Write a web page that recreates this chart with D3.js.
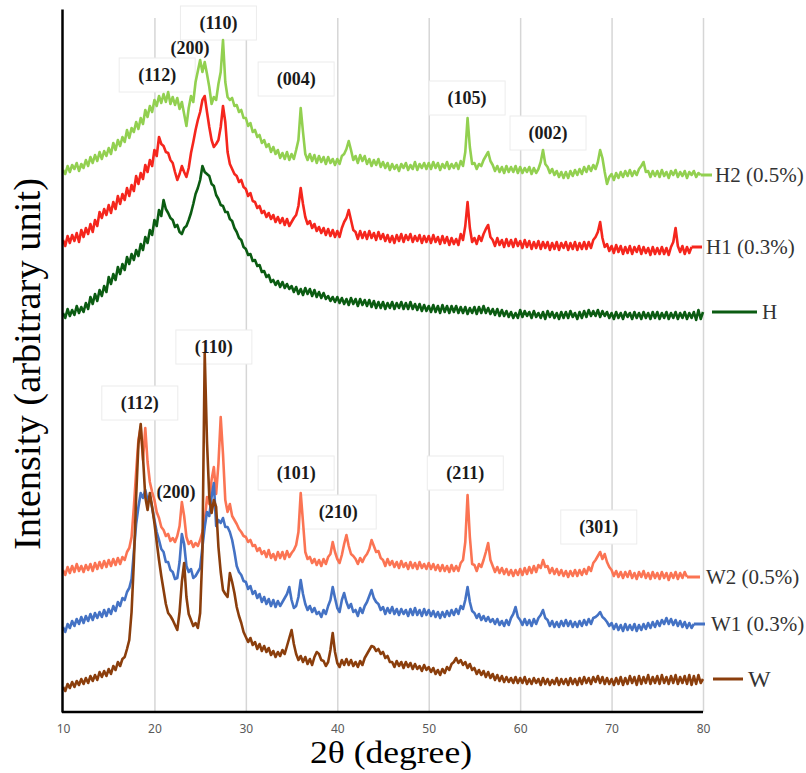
<!DOCTYPE html>
<html>
<head>
<meta charset="utf-8">
<script src="https://cdn.jsdelivr.net/npm/d3@7"></script>
<style>
  body { margin: 0; background: #fff; }
</style>
</head>
<body>
<div id="area_xrd"></div>
<script>
// 2θ sampling (degree), one value every 0.25°
const twoTheta = d3.range(0, 281).map(i => 10 + i * 0.25);

// intensities (arbitrary unit, curves already stacked)
const h2 = [
  542,538,546,540,547,543,549,541,548,544,552,546,555,549,557,551,560,553,561,556,
  564,558,569,562,572,566,575,570,582,574,584,580,590,583,594,588,602,595,606,600,
  612,606,616,609,618,610,620,608,615,607,614,603,610,598,586,604,616,610,630,641,
  652,640,650,638,625,608,615,612,628,640,672,630,615,612,614,606,607,600,602,594,
  594,586,589,580,582,575,577,569,572,565,568,560,565,558,562,554,559,553,560,552,
  558,553,562,572,604,580,558,552,558,551,557,549,556,550,555,548,555,549,553,547,
  553,548,556,558,563,571,562,552,556,549,557,551,556,548,553,546,552,547,553,545,
  550,544,549,542,548,543,547,541,548,544,549,542,547,543,550,542,548,544,549,543,
  549,543,550,544,549,542,548,544,550,543,548,544,549,543,551,546,560,594,565,548,
  549,543,548,546,552,556,560,551,547,541,546,540,545,539,546,540,545,540,546,539,
  545,539,544,540,545,538,544,539,543,550,562,548,545,539,543,537,541,535,540,534,
  540,534,541,536,542,537,543,538,545,540,546,541,547,543,550,562,554,540,528,535,
  538,532,539,534,540,535,541,536,542,536,541,537,543,546,550,540,541,535,541,536,
  541,535,542,536,540,534,541,537,542,535,540,536,541,534,540,537,541,535,539,537,
  null
];
const h1 = [
  472,466,476,469,477,471,479,470,482,475,484,478,488,480,492,486,500,494,503,497,
  507,499,510,503,516,508,518,512,524,516,527,521,536,528,539,533,547,540,552,546,
  562,556,575,568,566,560,559,552,549,540,532,538,546,540,535,544,559,570,582,592,
  600,612,616,600,585,572,565,568,572,585,606,590,560,548,543,538,536,530,532,525,
  523,516,519,511,510,504,506,499,501,495,499,493,497,490,495,489,494,487,493,486,
  490,494,497,506,524,508,495,488,491,484,488,481,485,479,484,477,483,476,482,475,
  481,475,484,490,494,502,492,482,480,473,481,474,480,473,481,474,479,472,480,473,
  478,471,477,470,476,469,477,471,478,470,477,472,478,470,476,471,477,469,476,470,
  476,469,477,470,475,468,476,469,475,467,474,468,473,467,478,472,486,510,484,470,
  474,468,476,471,478,483,487,475,472,466,474,467,472,465,473,466,472,465,473,466,
  471,464,472,465,471,463,470,464,471,463,470,464,470,462,469,463,470,462,469,464,
  470,462,469,463,470,462,469,463,470,463,470,464,472,475,480,490,474,465,468,461,
  466,459,467,460,466,458,465,459,466,458,465,460,466,458,465,459,464,457,465,458,
  464,458,465,458,464,457,465,470,484,466,460,466,458,465,459,465,null,null,null,null,
  null
];
const h = [
  399,394,403,396,402,397,406,399,405,400,409,403,415,408,418,411,422,416,426,420,
  435,428,438,432,445,438,448,442,455,448,458,452,462,456,468,462,475,469,482,477,
  492,486,502,496,512,503,499,494,492,485,487,480,478,484,486,492,499,508,518,524,
  532,546,540,538,536,528,526,517,513,507,506,500,500,493,491,484,480,474,472,465,
  463,457,458,451,452,446,447,440,441,435,437,430,432,427,431,425,430,424,428,423,
  426,420,425,418,423,417,424,418,423,416,422,415,420,414,419,413,416,411,415,410,
  415,409,414,408,413,407,414,408,413,406,413,407,412,406,412,405,411,404,410,404,
  410,403,409,404,410,403,409,404,410,403,409,403,410,403,408,402,408,401,407,401,
  406,400,407,400,406,399,407,400,406,399,406,400,406,399,405,399,405,398,404,399,
  405,398,405,399,406,399,404,398,403,397,403,396,402,396,401,395,400,394,399,394,
  402,395,401,396,400,394,401,395,399,394,400,393,401,395,400,394,399,393,400,394,
  400,394,401,395,399,393,400,394,401,395,402,396,401,396,402,395,401,396,400,394,
  399,393,400,394,399,393,400,395,399,393,400,394,399,393,400,394,399,393,400,394,
  400,393,399,394,400,393,399,394,400,393,399,394,400,393,399,394,400,392,402,393,
  400
];
const w2 = [
  142,137,145,139,146,140,148,141,146,140,147,142,148,141,149,143,150,144,151,145,
  152,146,153,147,154,148,155,152,160,164,175,205,240,272,285,252,284,250,230,220,
  212,200,194,185,182,176,178,171,174,170,176,186,210,196,175,168,171,165,169,166,
  172,180,190,215,208,232,245,218,248,295,258,212,200,208,196,192,188,183,180,176,
  175,170,172,166,167,161,164,158,161,155,162,154,158,152,160,154,160,153,161,155,
  159,162,167,180,219,190,160,153,155,149,153,147,152,146,153,148,155,158,170,160,
  153,149,157,168,177,166,158,156,153,148,154,150,155,158,163,172,166,160,161,154,
  152,146,153,147,151,145,150,144,151,145,149,143,150,144,149,143,150,144,148,143,
  149,143,148,142,147,141,147,141,146,140,147,141,146,141,149,152,170,217,175,148,
  147,141,148,145,152,160,169,152,146,140,145,139,144,138,143,137,142,136,142,137,
  143,137,144,138,145,139,146,140,147,144,152,145,146,139,144,138,143,137,142,136,
  141,135,141,136,142,136,142,137,143,138,145,141,149,152,156,160,153,158,150,145,
  142,136,141,135,140,134,140,135,141,134,139,133,140,135,141,134,139,133,140,134,
  139,133,140,134,139,132,139,134,140,133,139,134,140,135,null,null,null,null,null,null,
  null
];
const w1 = [
  85,80,88,84,91,86,93,88,95,89,96,91,98,92,99,94,100,95,102,96,
  103,98,106,101,110,106,114,112,120,124,133,160,188,205,219,214,222,212,216,204,
  192,180,172,163,160,150,150,142,140,133,134,150,178,168,146,140,143,134,136,140,
  144,165,185,200,196,215,229,186,192,189,194,185,185,180,172,160,146,140,137,131,
  130,123,126,118,121,114,118,110,115,108,113,106,112,105,111,106,110,114,118,125,
  112,104,106,115,132,118,108,102,106,100,104,98,100,95,102,98,106,112,125,114,
  104,100,112,119,110,104,108,100,102,96,104,99,106,110,116,122,114,110,108,102,
  105,98,104,99,105,98,103,97,103,98,102,96,103,97,104,97,102,96,103,97,
  102,96,101,95,100,94,100,95,101,96,102,97,103,98,106,103,112,125,110,101,
  99,94,98,92,96,91,95,90,93,88,93,87,91,86,92,87,94,98,105,95,
  92,87,93,87,92,86,93,88,94,97,102,94,92,86,91,85,90,85,91,86,
  92,86,91,85,90,85,91,86,92,87,93,88,94,95,97,100,95,93,90,86,
  89,83,88,82,87,81,88,82,87,82,88,81,87,82,88,83,89,84,90,85,
  91,86,92,88,94,88,93,87,92,86,91,85,90,84,89,84,88,null,null,null,
  null
];
const w = [
  25,21,28,24,30,25,31,27,33,28,34,29,36,31,37,32,40,35,41,36,
  43,38,46,42,50,46,53,55,63,72,100,150,215,268,288,255,215,202,219,205,
  189,170,152,136,122,108,99,96,92,87,82,100,130,149,115,98,92,86,89,84,
  99,160,359,270,215,199,212,205,165,140,122,118,115,139,130,119,105,96,89,80,
  75,70,74,67,70,63,68,61,66,60,64,57,61,55,60,56,62,58,66,74,
  82,68,58,52,56,50,55,48,53,47,55,60,58,52,51,46,50,62,79,60,
  49,45,52,47,53,47,52,46,50,45,51,47,54,58,62,66,65,61,63,58,
  60,54,56,50,50,45,51,46,50,44,50,45,49,43,48,43,46,41,47,42,
  45,40,44,38,42,37,43,39,45,42,48,50,54,49,52,47,50,44,48,42,
  44,38,42,37,41,35,40,34,38,32,37,31,36,30,35,30,34,29,35,29,
  34,29,35,28,33,28,34,29,33,27,34,28,33,27,32,28,34,27,33,28,
  33,27,34,28,33,27,34,28,35,29,34,28,35,30,36,29,35,28,34,28,
  33,27,34,28,35,27,34,28,36,29,35,27,36,28,35,29,37,28,35,29,
  36,28,37,29,35,28,36,29,37,28,35,29,36,28,37,27,36,28,37,29,
  33
];

const seriesNames = ["H2 (0.5%)", "H1 (0.3%)", "H", "W2 (0.5%)", "W1 (0.3%)", "W"];
const seriesData = [h2, h1, h, w2, w1, w];
const seriesColors = ["#92d050", "#f5261d", "#0b5c12", "#fb7453", "#4472c4", "#8b3e0c"];

const xTicks = [10, 20, 30, 40, 50, 60, 70, 80];

// Miller-index labels: text, 2θ, intensity level
const hklText  = ["(112)", "(200)", "(110)", "(004)", "(105)", "(002)",
                  "(110)", "(112)", "(200)", "(101)", "(210)", "(211)", "(301)"];
const hklTheta = [20.3, 23.9, 27.0, 35.5, 54.2, 63.05,
                  26.5, 18.4, 22.35, 35.5, 40.1, 54.0, 68.6];
const hklLevel = [637, 664, 689, 633, 614, 579,
                  365, 309, 220, 239, 200, 239, 185];
const hklBoxed = [true, false, true, true, true, true,
                  true, true, false, true, true, true, true];

const dimensions = {
    width: 806,
    height: 773,
    plotLeft: 63,
    plotRight: 703,
    plotTop: 9,
    plotBottom: 712
};

const svg = d3.select("#area_xrd").append("svg")
    .attr("width", dimensions.width)
    .attr("height", dimensions.height);

const xScale = d3.scaleLinear()
    .domain([10, 80])
    .range([dimensions.plotLeft, dimensions.plotRight]);

const yScale = d3.scaleLinear()
    .domain([0, dimensions.plotBottom - dimensions.plotTop])
    .range([dimensions.plotBottom, dimensions.plotTop]);

// vertical gridlines
const grid = svg.append("g")
    .attr("transform", `translate(0, ${dimensions.plotBottom})`)
    .call(d3.axisBottom(xScale)
        .tickValues(xTicks.slice(1))
        .tickSize(-(dimensions.plotBottom - 18))
        .tickFormat(""));
grid.select(".domain").remove();
grid.selectAll("line").attr("stroke", "#d6d6d6").attr("stroke-width", 1.5);

// label boxes (white, faint border) sit under the curves
const hkl = hklText.map((t, i) => ({ t, x: hklTheta[i], y: hklLevel[i], boxed: hklBoxed[i] }));
svg.append("g").selectAll("rect")
    .data(hkl.filter(d => d.boxed))
    .join("rect")
    .attr("x", d => xScale(d.x) - 38)
    .attr("y", d => yScale(d.y) - 17)
    .attr("width", 76)
    .attr("height", 34)
    .attr("fill", "#fff")
    .attr("stroke", "#ececec")
    .attr("stroke-width", 1);

// curves
const lineGenerator = d3.line()
    .defined(d => d.y != null)
    .x(d => xScale(d.x))
    .y(d => yScale(d.y));

const series = seriesData.map((vals, k) => {
    const pts = vals.map((v, i) => ({ x: twoTheta[i], y: v }));
    return { name: seriesNames[k], color: seriesColors[k], pts,
             last: pts.filter(p => p.y != null).pop() };
});

svg.append("g").selectAll("path")
    .data(series)
    .join("path")
    .attr("d", d => lineGenerator(d.pts))
    .attr("fill", "none")
    .attr("stroke", d => d.color)
    .attr("stroke-width", 2.6)
    .attr("stroke-linejoin", "round");

// legend keys at the right end of each curve
const keyStart = [0, 0, 9, 0, 0, 10];     // offset from end of curve / axis end
const keyEnd = [9, -1, 54, -3, 2, 40];    // relative to x = 80
const keyText = [12, 3, 59, 3, 8, 45];
const keyFont = [21, 21, 21, 21, 21, 24];

const legend = svg.append("g");
series.forEach((s, k) => {
    const yy = yScale(s.last.y);
    const x0 = keyStart[k] ? xScale(80) + keyStart[k] : xScale(s.last.x);
    legend.append("line")
        .attr("x1", x0).attr("x2", xScale(80) + keyEnd[k])
        .attr("y1", yy).attr("y2", yy)
        .attr("stroke", s.color)
        .attr("stroke-width", 3);
    legend.append("text")
        .attr("x", xScale(80) + keyText[k])
        .attr("y", yy)
        .attr("dy", "0.35em")
        .attr("font-family", "'Liberation Serif', 'Times New Roman', serif")
        .attr("font-size", keyFont[k])
        .attr("fill", "#333")
        .text(s.name);
});

// Miller-index texts
svg.append("g").selectAll("text")
    .data(hkl)
    .join("text")
    .attr("x", d => xScale(d.x))
    .attr("y", d => yScale(d.y))
    .attr("dy", "0.35em")
    .attr("text-anchor", "middle")
    .attr("font-family", "'Liberation Serif', 'Times New Roman', serif")
    .attr("font-weight", "bold")
    .attr("font-size", 18)
    .attr("fill", "#1a1a1a")
    .text(d => d.t);

// axes
const xAxis = svg.append("g")
    .attr("transform", `translate(0, ${dimensions.plotBottom})`)
    .call(d3.axisBottom(xScale).tickValues(xTicks).tickSize(0).tickSizeOuter(0).tickPadding(12));
xAxis.select(".domain")
    .attr("stroke", "#000").attr("stroke-width", 2.5)
    .attr("d", `M${dimensions.plotLeft - 1},0H${dimensions.plotRight}`);
xAxis.selectAll("text")
    .attr("font-family", "'Noto Sans', 'Open Sans', sans-serif")
    .attr("font-size", 12)
    .attr("fill", "#595959");

const yAxis = svg.append("g")
    .attr("transform", `translate(${dimensions.plotLeft - 1}, 0)`)
    .call(d3.axisLeft(yScale).tickValues([]).tickSizeOuter(0));
yAxis.select(".domain").attr("stroke", "#000").attr("stroke-width", 2.5);

// axis titles
svg.append("text")
    .attr("transform", "translate(40, 364) rotate(-90)")
    .attr("text-anchor", "middle")
    .attr("font-family", "'Liberation Serif', 'Times New Roman', serif")
    .attr("font-size", 38)
    .attr("fill", "#000")
    .attr("textLength", 372)
    .attr("lengthAdjust", "spacingAndGlyphs")
    .text("Intensity (arbitrary unit)");

svg.append("text")
    .attr("x", 391)
    .attr("y", 763)
    .attr("text-anchor", "middle")
    .attr("font-family", "'Liberation Serif', 'Times New Roman', serif")
    .attr("font-size", 31)
    .attr("fill", "#000")
    .attr("textLength", 162)
    .attr("lengthAdjust", "spacingAndGlyphs")
    .text("2θ (degree)");
</script>
</body>
</html>
